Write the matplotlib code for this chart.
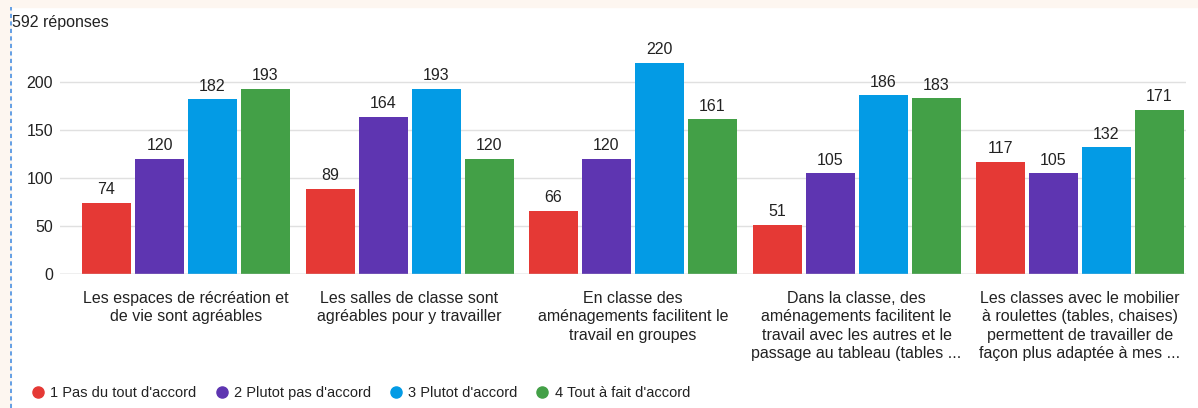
import matplotlib
matplotlib.use("Agg")
import matplotlib.pyplot as plt
from matplotlib.lines import Line2D
import matplotlib.patches as mpatches
import numpy as np

plt.rcParams['font.family'] = ['Liberation Sans', 'DejaVu Sans']

categories = [
    "Les espaces de récréation et\nde vie sont agréables",
    "Les salles de classe sont\nagréables pour y travailler",
    "En classe des\naménagements facilitent le\ntravail en groupes",
    "Dans la classe, des\naménagements facilitent le\ntravail avec les autres et le\npassage au tableau (tables ...",
    "Les classes avec le mobilier\nà roulettes (tables, chaises)\npermettent de travailler de\nfaçon plus adaptée à mes ...",
]
series_names = ["1 Pas du tout d'accord", "2 Plutot pas d'accord",
                "3 Plutot d'accord", "4 Tout à fait d'accord"]
s1 = [74, 89, 66, 51, 117]
s2 = [120, 164, 120, 105, 105]
s3 = [182, 193, 220, 186, 132]
s4 = [193, 120, 161, 183, 171]
series = [s1, s2, s3, s4]
colors = ["#e53935", "#5e35b1", "#039be5", "#43a047"]
yticks = [0, 50, 100, 150, 200]
title = "592 réponses"

W, H = 1198, 408
fig = plt.figure(figsize=(W/100, H/100), dpi=100)
fig.patch.set_facecolor("white")

# peach frame strips
fig.patches.append(mpatches.Rectangle((0, 1-7/H), 1, 7/H, transform=fig.transFigure,
                                      color="#fdf6f0", zorder=0))
fig.patches.append(mpatches.Rectangle((0, 0), 11/W, 1, transform=fig.transFigure,
                                      color="#fdf6f0", zorder=0))
fig.add_artist(Line2D([11/W, 11/W], [0, 1-7/H], transform=fig.transFigure,
                      color="#4a90e2", lw=1.2, ls=(0, (2.5, 2))))

left, right = 60/W, 1186/W
bottom, top = 1-274/H, 1-34/H
ax = fig.add_axes([left, bottom, right-left, top-bottom])
ax.set_facecolor("none")

fs = 11.5
x = np.arange(len(categories))
step = 53/223.5
width = 49/223.5
for i, (vals, c) in enumerate(zip(series, colors)):
    xs = x + (i-1.5)*step
    ax.bar(xs, vals, width=width, color=c, zorder=3)
    for xi, v in zip(xs, vals):
        ax.annotate(str(v), (xi, v), xytext=(0, 4), textcoords="offset points",
                    ha="center", va="bottom", fontsize=fs, color="#222222")

ax.set_xlim((60-186)/223.5, (1186-186)/223.5)
ax.set_ylim(0, 250)
ax.set_yticks(yticks)
ax.set_yticklabels([str(t) for t in yticks], fontsize=fs, color="#222222")
ax.yaxis.grid(True, color="#e0e0e0", lw=1, zorder=0)
ax.set_xticks(x)
ax.set_xticklabels(categories, fontsize=fs, color="#222222", linespacing=1.3, va="top")
ax.tick_params(axis="both", length=0)
ax.tick_params(axis="x", pad=12)
ax.tick_params(axis="y", pad=5)
for s in ax.spines.values():
    s.set_visible(False)
ax.axhline(0, color="#cccccc", lw=1, zorder=4)

fig.text(12/W, 1-22/H, title, fontsize=fs, color="#222222", ha="left", va="center")

handles = [Line2D([0], [0], marker='o', color='none', markerfacecolor=c,
                  markeredgecolor=c, markersize=8) for c in colors]
fig.legend(handles, series_names, loc="center left", bbox_to_anchor=(14/W, 1-393/H),
           ncol=4, frameon=False, fontsize=10.5, handletextpad=0.1, columnspacing=0.95,
           handlelength=1.5, labelcolor="#222222")

fig.savefig("out.png", dpi=100)
